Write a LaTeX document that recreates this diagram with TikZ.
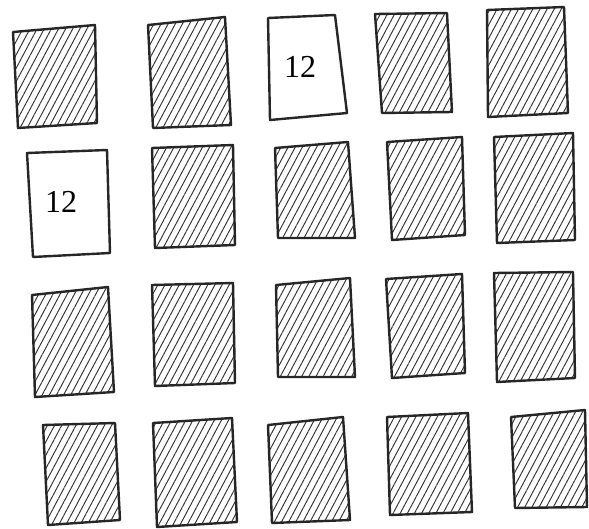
\documentclass[tikz,border=0pt]{standalone}
\usepackage{fontspec}
\setmainfont{Liberation Serif}
\usetikzlibrary{patterns.meta}

\tikzset{
  card/.style={draw=black!85, line width=2.4pt, line join=round},
  cardback/.style={card, pattern={Lines[angle=62, distance=6.3pt, line width=0.95pt]}, pattern color=black!80},
  cardface/.style={card, fill=white},
  cardnum/.style={font=\fontsize{32}{34}\selectfont, inner sep=0pt}
}

\begin{document}
\begin{tikzpicture}[x=1pt, y=-1pt]
    \useasboundingbox (0,0) rectangle (589,528);

    % face-down cards, corners tl/tr/br/bl
    \foreach \ax/\ay/\bx/\by/\cx/\cy/\ex/\ey in {
        13/32/95/25/97/123/18/128,
        148/25/225/17/231/125/153/128,
        375/14/447/13/452/112/382/113,
        487/10/564/7/568/113/488/117,
        152/148/233/145/235/245/155/248,
        275/148/348/142/355/238/278/238,
        387/142/462/137/465/235/392/240,
        494/137/573/133/575/240/497/243,
        32/295/108/287/114/392/35/397,
        152/285/233/283/235/383/155/386,
        276/285/350/278/355/377/278/377,
        386/279/462/274/465/373/392/378,
        494/273/573/272/575/378/497/382,
        43/425/115/423/120/520/48/525,
        153/423/232/418/237/522/157/527,
        268/425/343/417/350/520/272/523,
        387/417/468/413/472/512/390/515,
        511/417/585/410/587/507/515/508}
        \draw[cardback] (\ax,\ay) -- (\bx,\by) -- (\cx,\cy) -- (\ex,\ey) -- cycle;

    % face-up cards
    \draw[cardface] (268,18) -- (335,15) -- (347,113) -- (270,120) -- cycle;
    \node[cardnum] (up1) at (300,67) {12};

    \draw[cardface] (27,153) -- (107,150) -- (110,253) -- (33,257) -- cycle;
    \node[cardnum] (up2) at (61,202) {12};
\end{tikzpicture}
\end{document}
